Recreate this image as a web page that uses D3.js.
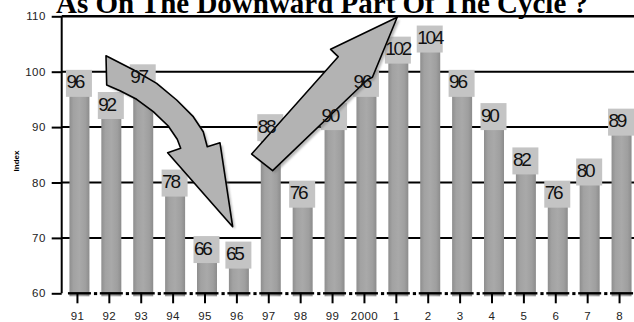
<!DOCTYPE html>
<html>
<head>
<meta charset="utf-8">
<script src="https://cdn.jsdelivr.net/npm/d3@7"></script>
<style>
  html, body { margin: 0; padding: 0; background: #fff; }
  svg { display: block; }
</style>
</head>
<body>
<svg id="chart" width="634" height="322"></svg>
<script>
// Index by year, 1991 – 2008
const categories = ["91","92","93","94","95","96","97","98","99","2000","1","2","3","4","5","6","7","8"];
const values = [96, 92, 97, 78, 66, 65, 88, 76, 90, 96, 102, 104, 96, 90, 82, 76, 80, 89];
const yTicks = [60, 70, 80, 90, 100, 110];
const title = "As On The Downward Part Of The Cycle ?";
const yTitle = "Index";

// Block arrows, in chart units: [band position, index value]
const downArrow = [
  [1.395, 102.87], [2.251, 100.34], [2.984, 97.9], [3.611, 94.89], [4.132, 91.88],
  [4.445, 89.17], [4.571, 86.46], [4.969, 87.18], [5.367, 72.02], [3.329, 85.38],
  [3.737, 86.17], [3.630, 87.8], [3.348, 90.2], [2.878, 92.78], [2.357, 95.02],
  [1.834, 96.57], [1.417, 97.6]
];
const upArrow = [
  [5.962, 85.14], [6.621, 82.13], [9.60, 98.6], [9.75, 99.0], [10.527, 109.82],
  [8.439, 104.04], [8.677, 102.71]
];

const svg = d3.select("#chart");
const plotLeft = 61.7, plotRight = 634, plotTop = 16.3, plotBottom = 293.3;

const x = d3.scaleBand().domain(categories).range([61.5, 635.5]).padding(0);
const y = d3.scaleLinear().domain([60, 110]).range([plotBottom, plotTop]);
const xPos = d3.scaleLinear().domain([0, categories.length]).range([61.5, 635.5]);
const cx = c => x(c) + x.bandwidth() / 2;

// bar shading
const defs = svg.append("defs");
const grad = defs.append("linearGradient").attr("id", "barGrad").attr("x1", 0).attr("x2", 1).attr("y1", 0).attr("y2", 0);
[[0, "#8e8e8e"], [0.2, "#a2a2a2"], [0.5, "#a9a9a9"], [0.8, "#9f9f9f"], [1, "#8c8c8c"]]
  .forEach(([o, c]) => grad.append("stop").attr("offset", o).attr("stop-color", c));
const blur = defs.append("filter").attr("id", "soft").attr("x", "-10%").attr("y", "-10%").attr("width", "120%").attr("height", "120%");
blur.append("feGaussianBlur").attr("stdDeviation", 1.2);

// horizontal gridlines
svg.append("g").selectAll("line").data(yTicks.filter(v => v > 60)).join("line")
  .attr("x1", plotLeft).attr("x2", plotRight)
  .attr("y1", d => y(d)).attr("y2", d => y(d))
  .attr("stroke", "#000").attr("stroke-width", d => d === 110 ? 2.6 : 2);

// bars
svg.append("g").selectAll("rect").data(values).join("rect")
  .attr("x", (d, i) => cx(categories[i]) - 8)
  .attr("width", 20)
  .attr("y", d => y(d))
  .attr("height", d => y(60) + 3 - y(d))
  .attr("fill", "url(#barGrad)");

// y axis
const yAxis = svg.append("g").attr("transform", `translate(${plotLeft},0)`)
  .call(d3.axisLeft(y).tickValues(yTicks).tickSize(10).tickPadding(6));
yAxis.select(".domain").attr("stroke", "#000").attr("stroke-width", 2).attr("d", `M0,${plotTop}V${plotBottom}`);
yAxis.selectAll(".tick line").attr("stroke", "#000").attr("stroke-width", 2);
yAxis.selectAll(".tick text").attr("font-family", "Arial, 'Liberation Sans', sans-serif")
  .attr("font-size", 11.5).attr("fill", "#222").attr("letter-spacing", 0.4);

// x axis: broken baseline plus ticks
const base = svg.append("g");
base.selectAll("line.seg").data(categories).join("line").attr("class", "seg")
  .attr("x1", c => cx(c) - 9.5).attr("x2", c => Math.min(plotRight, cx(c) + 13.5))
  .attr("y1", plotBottom).attr("y2", plotBottom).attr("stroke", "#000").attr("stroke-width", 2.4);
base.selectAll("rect.dot").data(categories).join("rect").attr("class", "dot")
  .attr("x", c => cx(c) + 16.5).attr("y", plotBottom - 1.2).attr("width", 3.2).attr("height", 3)
  .attr("fill", "#000");

const xAxis = svg.append("g").attr("transform", `translate(0,${plotBottom})`)
  .call(d3.axisBottom(x).tickSize(10).tickPadding(8.5));
xAxis.select(".domain").remove();
xAxis.selectAll(".tick line").attr("stroke", "#000").attr("stroke-width", 2);
xAxis.selectAll(".tick text").attr("font-family", "Arial, 'Liberation Sans', sans-serif")
  .attr("font-size", 11.5).attr("fill", "#222").attr("letter-spacing", 0.4);

// value label boxes
const boxW = 26, boxH = 27;
svg.append("g").selectAll("rect").data(values).join("rect")
  .attr("x", (d, i) => cx(categories[i]) + 1.5 - boxW / 2)
  .attr("y", d => y(d) + 3 - boxH)
  .attr("width", boxW).attr("height", boxH)
  .attr("fill", "#c4c4c4");

// block arrows with a soft drop shadow
const line = d3.line().x(d => xPos(d[0])).y(d => y(d[1])).curve(d3.curveLinearClosed);
const arrows = svg.append("g");
[downArrow, upArrow].forEach(pts => {
  arrows.append("path").attr("d", line(pts)).attr("transform", "translate(2.5,2.5)")
    .attr("fill", "#7c7c7c").attr("opacity", 0.55).attr("filter", "url(#soft)");
});
[downArrow, upArrow].forEach(pts => {
  arrows.append("path").attr("d", line(pts))
    .attr("fill", "#b3b3b3").attr("stroke", "#000").attr("stroke-width", 1.6)
    .attr("stroke-linejoin", "round");
});

// value labels
svg.append("g").selectAll("text").data(values).join("text")
  .attr("x", (d, i) => cx(categories[i]) + 1.5 - boxW / 2 + 0.5)
  .attr("y", d => y(d) + 3 - boxH + 18.5)
  .attr("font-family", "Arial, 'Liberation Sans', sans-serif")
  .attr("font-size", 19).attr("letter-spacing", -2.3).attr("fill", "#111")
  .text(d => d);

// title, clipped by the top edge
svg.append("text").attr("x", 56).attr("y", 12.5)
  .attr("font-family", "'Times New Roman', 'Liberation Serif', serif")
  .attr("font-weight", "bold").attr("font-size", 29)
  .attr("textLength", 532).attr("lengthAdjust", "spacingAndGlyphs")
  .attr("fill", "#000").text(title);

// y axis title
svg.append("text").attr("transform", "translate(19,161) rotate(-90)")
  .attr("text-anchor", "middle")
  .attr("font-family", "Arial, 'Liberation Sans', sans-serif")
  .attr("font-size", 8).attr("font-weight", "bold").attr("fill", "#000")
  .text(yTitle);
</script>
</body>
</html>
